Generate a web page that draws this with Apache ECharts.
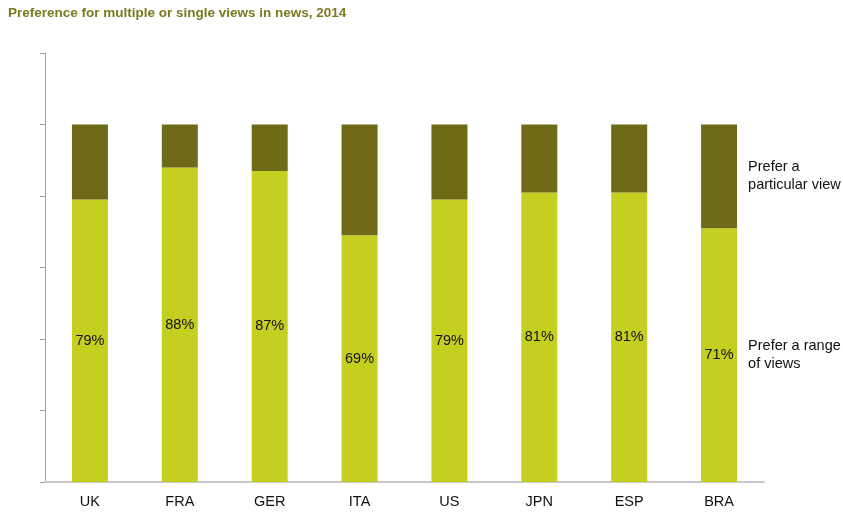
<!DOCTYPE html>
<html>
<head>
<meta charset="utf-8">
<script src="https://cdn.jsdelivr.net/npm/echarts@6/dist/echarts.min.js"></script>
<style>
  html, body { margin: 0; padding: 0; background: #fff; }
  #main { width: 843px; height: 514px; }
</style>
</head>
<body>
<div id="main"></div>
<script>
var countries = ['UK', 'FRA', 'GER', 'ITA', 'US', 'JPN', 'ESP', 'BRA'];
var rangeOfViews = [79, 88, 87, 69, 79, 81, 81, 71];
var particularView = [21, 12, 13, 31, 21, 19, 19, 29];
var yTicks = [0, 20, 40, 60, 80, 100, 120];

var font = '"Liberation Sans", Arial, sans-serif';
var last = countries.length - 1;

// side label next to the last bar's segment, placed at the segment middle
function sideLabel(name, yMid) {
  return {
    symbol: 'circle',
    symbolSize: 0,
    data: [{ coord: [countries[last], yMid] }],
    label: {
      show: true,
      position: 'right',
      distance: 29,
      formatter: name,
      color: '#111',
      fontSize: 14.5,
      lineHeight: 18,
      fontFamily: font
    }
  };
}

var chart = echarts.init(document.getElementById('main'));
chart.setOption({
  animation: false,
  title: {
    text: 'Preference for multiple or single views in news, 2014',
    left: 3,
    top: 1,
    textStyle: { color: '#7a7a1e', fontSize: 13.5, fontWeight: 'bold', fontFamily: font }
  },
  grid: { left: 45, right: 79, top: 53, bottom: 32 },
  xAxis: {
    type: 'category',
    data: countries,
    axisLine: { lineStyle: { color: '#c8c8c8', width: 2 } },
    axisTick: { show: false },
    axisLabel: { color: '#111', fontSize: 14.5, fontFamily: font, margin: 12 }
  },
  yAxis: {
    type: 'value',
    min: yTicks[0],
    max: yTicks[yTicks.length - 1],
    interval: 20,
    axisLine: { show: true, lineStyle: { color: '#a0a0a0' } },
    axisTick: { show: true, length: 5, lineStyle: { color: '#a0a0a0' } },
    axisLabel: { show: false },
    splitLine: { show: false }
  },
  series: [
    {
      name: 'Prefer a range of views',
      type: 'bar',
      stack: 'all',
      barWidth: 36,
      data: rangeOfViews,
      itemStyle: { color: '#c5cf1f' },
      label: {
        show: true,
        position: 'inside',
        formatter: '{c}%',
        color: '#111',
        fontSize: 14.5,
        fontFamily: font
      },
      markPoint: sideLabel('Prefer a range\nof views', rangeOfViews[last] / 2)
    },
    {
      name: 'Prefer a particular view',
      type: 'bar',
      stack: 'all',
      barWidth: 36,
      data: particularView,
      itemStyle: { color: '#6f6a18' },
      label: { show: false },
      markPoint: sideLabel('Prefer a\nparticular view', rangeOfViews[last] + particularView[last] / 2)
    }
  ]
});
</script>
</body>
</html>
